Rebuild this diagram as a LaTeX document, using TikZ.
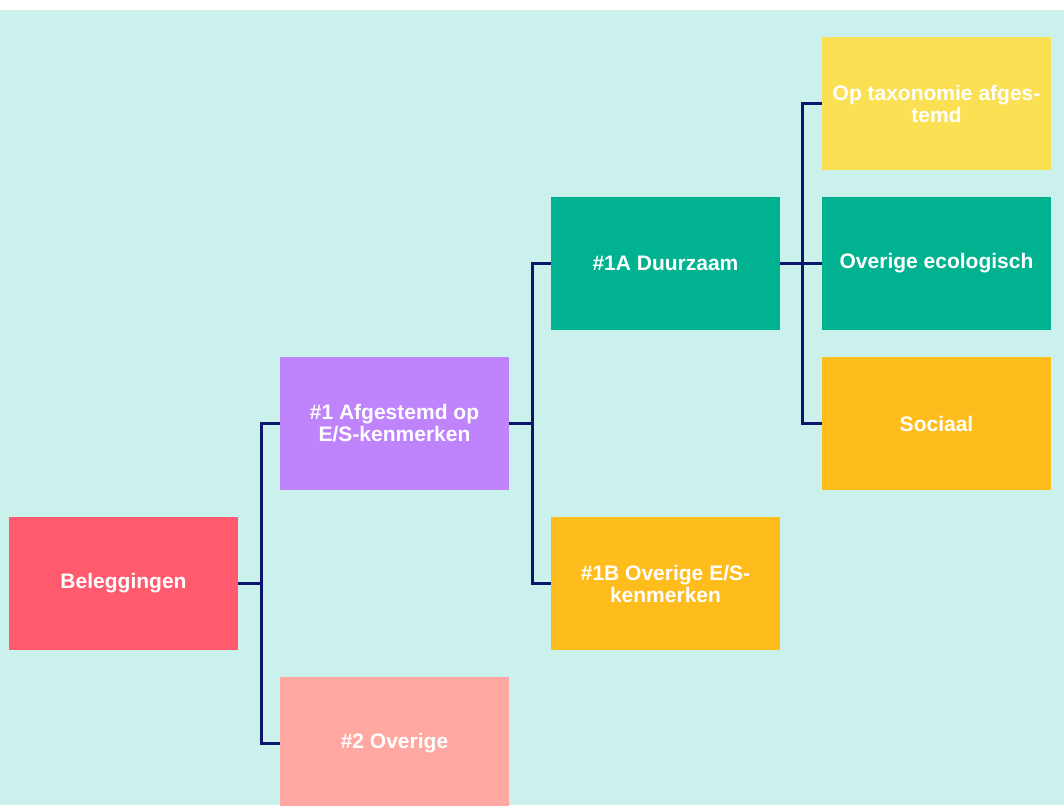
\documentclass[tikz,border=0pt]{standalone}
\usepackage{fontspec}
\setmainfont{Liberation Sans}
\definecolor{bgteal}{RGB}{203,241,236}
\definecolor{navy}{RGB}{12,22,110}
\definecolor{cbel}{RGB}{255,90,110}
\definecolor{cpurple}{RGB}{191,131,251}
\definecolor{cpink}{RGB}{255,168,161}
\definecolor{cgreen}{RGB}{0,178,143}
\definecolor{corange}{RGB}{255,189,29}
\definecolor{cyellow}{RGB}{250,224,82}
\tikzset{
  box/.style={rectangle, minimum width=229pt, minimum height=133pt, inner sep=0pt,
    text=white, align=center, font=\fontsize{21}{22}\selectfont\bfseries},
  conn/.style={draw=navy, line width=3pt}
}
\begin{document}
\begin{tikzpicture}[x=1pt,y=-1pt]
\clip (0,0) rectangle (1064,805);
\fill[white] (0,0) rectangle (1064,10);
\fill[bgteal] (0,10) rectangle (1064,805);
\node[box, fill=cbel] (bel) at (123.5,583.5) {Beleggingen};
\node[box, fill=cpurple] (a1) at (394.5,423.5) {\#1 Afgestemd op\\E/S-kenmerken};
\node[box, fill=cpink] (o2) at (394.5,743.5) {\#2 Overige};
\node[box, fill=cgreen] (d1a) at (665.5,263.5) {\#1A Duurzaam};
\node[box, fill=corange] (d1b) at (665.5,583.5) {\#1B Overige E/S-\\kenmerken};
\node[box, fill=cyellow] (tax) at (936.5,103.5) {Op taxonomie afges-\\temd};
\node[box, fill=cgreen] (eco) at (936.5,263.5) {Overige ecologisch};
\node[box, fill=corange] (soc) at (936.5,423.5) {Sociaal};
% connectors
\draw[conn] (bel.east) -- ++(23,0) coordinate (j1);
\draw[conn] (j1) |- (a1.west);
\draw[conn] (j1) |- (o2.west);
\draw[conn] (a1.east) -- ++(23,0) coordinate (j2);
\draw[conn] (j2) |- (d1a.west);
\draw[conn] (j2) |- (d1b.west);
\draw[conn] (d1a.east) -- ++(22,0) coordinate (j3);
\draw[conn] (j3) |- (tax.west);
\draw[conn] (j3) -- (eco.west);
\draw[conn] (j3) |- (soc.west);
\end{tikzpicture}
\end{document}
